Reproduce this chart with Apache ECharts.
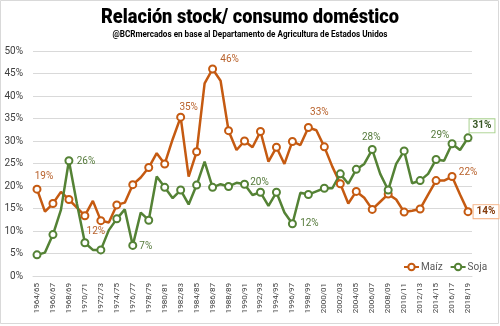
<!DOCTYPE html>
<html>
<head>
<meta charset="utf-8">
<script src="https://cdn.jsdelivr.net/npm/echarts@6/dist/echarts.min.js"></script>
<style>
  html, body { margin: 0; padding: 0; background: #fff; }
  #chart { width: 500px; height: 326px; }
</style>
</head>
<body>
<div id="chart"></div>
<script>
// Campaigns 1964/65 .. 2018/19
const campaigns = [];
for (let y = 1964; y <= 2018; y++) {
  campaigns.push(y + '/' + String((y + 1) % 100).padStart(2, '0'));
}

// Stock / domestic use ratio, percent
const maiz = [19.3, 14.3, 16.1, 18.7, 17.0, 15.2, 13.4, 16.7, 12.3, 11.9,
  15.8, 16.3, 20.3, 21.9, 24.1, 27.3, 24.9, 30.4, 35.3, 22.1,
  27.6, 42.8, 46.0, 43.4, 32.3, 28.0, 30.0, 28.6, 32.1, 25.4,
  28.6, 24.9, 29.9, 29.1, 33.0, 32.4, 28.7, 24.3, 20.5, 16.1,
  18.8, 17.4, 14.8, 16.5, 18.2, 17.0, 14.2, 14.5, 14.9, 18.1,
  21.2, 21.2, 22.1, 18.1, 14.3];
const soja = [4.7, 5.2, 9.2, 14.7, 25.6, 16.1, 7.4, 5.8, 5.8, 10.2,
  12.7, 14.8, 6.8, 14.1, 12.4, 22.1, 19.7, 17.3, 19.1, 15.9,
  20.2, 25.4, 19.7, 20.4, 19.9, 20.7, 20.4, 18.0, 18.6, 15.6,
  18.6, 14.1, 11.6, 18.5, 18.1, 18.8, 19.5, 19.5, 22.7, 20.5,
  23.7, 24.9, 28.1, 22.7, 19.1, 24.9, 27.8, 20.6, 21.2, 22.7,
  25.9, 25.6, 29.4, 28.0, 30.7];

const yTicks = [0, 5, 10, 15, 20, 25, 30, 35, 40, 45, 50];

const TITLE = 'Relación stock/ consumo doméstico';
const SUBTITLE = '@BCRmercados en base al Departamento de Agricultura de Estados Unidos';

// Which points carry a value label, and where the label sits (offset from the point)
const maizLabels = [
  { i: 0, dx: 7, dy: -13 }, { i: 8, dx: -5, dy: 11 }, { i: 18, dx: 8, dy: -10 },
  { i: 22, dx: 17, dy: -10 }, { i: 31, dx: 17, dy: 0 }, { i: 34, dx: 11, dy: -15 },
  { i: 47, dx: 5, dy: 11 }, { i: 52, dx: 16, dy: -4 }, { i: 53, dx: 17, dy: 2 },
  { i: 54, dx: 18, dy: 0, boxed: true }
];
const sojaLabels = [
  { i: 1, dx: 8, dy: 13 }, { i: 4, dx: 17, dy: 1 }, { i: 12, dx: 13, dy: 1 },
  { i: 19, dx: 17, dy: 0 }, { i: 21, dx: 17, dy: 1 }, { i: 26, dx: 15, dy: -2 },
  { i: 32, dx: 17, dy: 0 }, { i: 42, dx: -1, dy: -12 }, { i: 52, dx: -12, dy: -8 },
  { i: 53, dx: 17, dy: 0 }, { i: 54, dx: 14, dy: -12, boxed: true }
];

const MAIZ = '#c55a11', SOJA = '#548235';
const FONT = 'Roboto';

function buildData(values, labels, textColor, boxColor, boxText) {
  return values.map((v, i) => {
    const l = labels.find(o => o.i === i);
    if (!l) return v;
    const label = {
      show: true, position: 'inside', offset: [l.dx, l.dy],
      fontFamily: FONT, fontSize: 10, color: textColor,
      formatter: p => Math.round(p.value) + '%'
    };
    if (l.boxed) {
      Object.assign(label, {
        color: boxText, fontWeight: 'bold', backgroundColor: '#fff',
        borderColor: boxColor, borderWidth: 1, padding: [2, 3, 1, 3]
      });
    }
    return { value: v, label };
  });
}

function lineSeries(name, color, data) {
  return {
    name, type: 'line', data,
    symbol: 'circle', symbolSize: 7,
    lineStyle: { color, width: 2.5 },
    itemStyle: { color: '#fff', borderColor: color, borderWidth: 2 },
    emphasis: { disabled: true },
    label: { show: false }
  };
}

// Heading drawn in a condensed style: a bold face squeezed horizontally to a set width
const measureCtx = document.createElement('canvas').getContext('2d');
function squeezedText(text, font, targetWidth, cx, cy) {
  measureCtx.font = font;
  const w = measureCtx.measureText(text).width;
  return {
    type: 'text', x: cx, y: cy, scaleX: targetWidth / w, scaleY: 1,
    style: { text, font, fill: '#000', align: 'center', verticalAlign: 'middle' },
    silent: true
  };
}

const chart = echarts.init(document.getElementById('chart'), null, { renderer: 'canvas' });
chart.setOption({
  animation: false,
  backgroundColor: '#fff',
  legend: {
    left: 398, top: 257, itemWidth: 15, itemHeight: 8, itemGap: 7,
    textStyle: { fontFamily: FONT, fontSize: 10, color: '#595959', padding: [0, 0, 0, -3] },
    data: ['Maíz', 'Soja']
  },
  grid: { left: 33, right: 28, top: 51, bottom: 50 },
  xAxis: {
    type: 'category', data: campaigns, boundaryGap: true,
    axisLine: { lineStyle: { color: '#d9d9d9' } },
    axisTick: { show: false },
    axisLabel: { rotate: 90, interval: 1, margin: 7, fontFamily: FONT, fontSize: 8, color: '#404040' }
  },
  yAxis: {
    type: 'value', min: yTicks[0], max: yTicks[yTicks.length - 1], interval: 5,
    axisLine: { show: false }, axisTick: { show: false },
    splitLine: { lineStyle: { color: '#d9d9d9' } },
    axisLabel: { formatter: '{value}%', margin: 10, fontFamily: FONT, fontSize: 10, color: '#404040' }
  },
  graphic: [
    {
      type: 'rect', shape: { x: 0.5, y: 0.5, width: 498, height: 323 },
      style: { fill: 'none', stroke: '#d9d9d9', lineWidth: 1 }, silent: true
    },
    squeezedText(TITLE, '900 21px Roboto', 298, 250, 18),
    squeezedText(SUBTITLE, 'bold 9px Roboto', 275, 250, 35)
  ],
  series: [
    lineSeries('Maíz', MAIZ, buildData(maiz, maizLabels, '#b8612b', '#f4b183', '#843c0c')),
    lineSeries('Soja', SOJA, buildData(soja, sojaLabels, '#54793a', '#a9d18e', '#375623'))
  ]
});
</script>
</body>
</html>
